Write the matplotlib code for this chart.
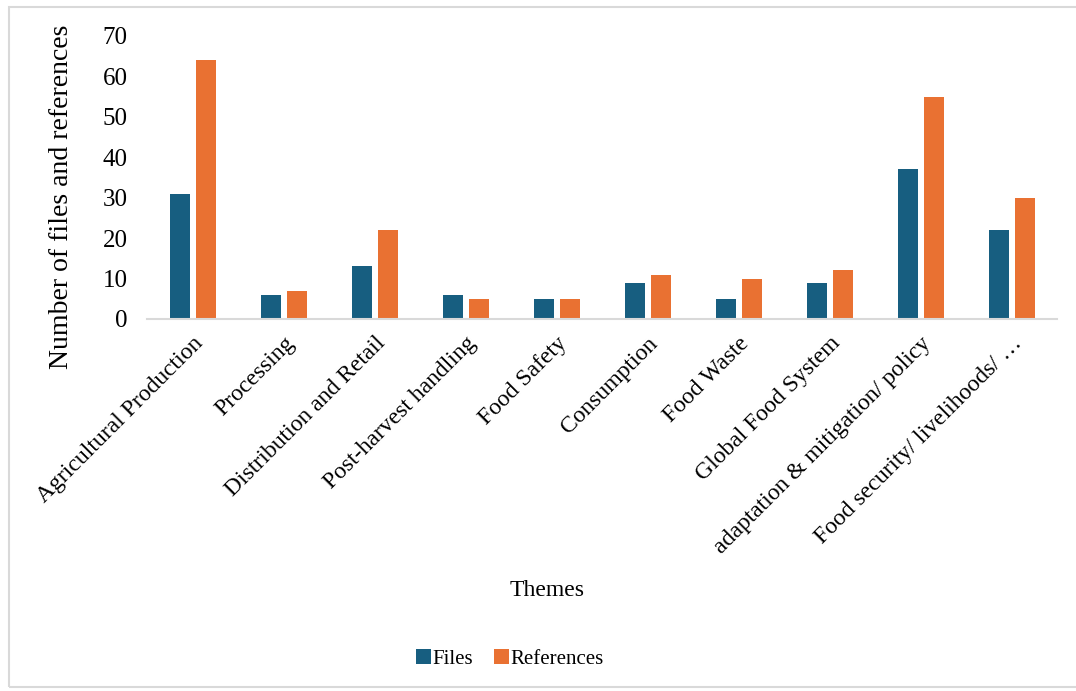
import numpy as np
import matplotlib
matplotlib.use("Agg")
import matplotlib.pyplot as plt
from matplotlib.patches import Rectangle

themes = ["Agricultural Production", "Processing", "Distribution and Retail",
          "Post-harvest handling", "Food Safety", "Consumption", "Food Waste",
          "Global Food System", "adaptation & mitigation/ policy",
          "Food security/ livelihoods/ \u2026"]
files = [31, 6, 13, 6, 5, 9, 5, 9, 37, 22]
references = [64, 7, 22, 5, 5, 11, 10, 12, 55, 30]
yticks = [0, 10, 20, 30, 40, 50, 60, 70]

blue = "#175E80"
orange = "#E97132"

plt.rcParams['font.family'] = ['Liberation Serif', 'DejaVu Serif']

fig = plt.figure(figsize=(10.76, 6.91), dpi=100)
ax = fig.add_axes([147/1076, 1 - 319/691, 910/1076, 283/691])

x = np.arange(len(themes))
w = 0.22
ax.bar(x - 0.14, files, w, color=blue, label="Files")
ax.bar(x + 0.145, references, w, color=orange, label="References")

ax.set_xlim(-0.5, len(themes) - 0.5)
ax.set_ylim(0, 70)
ax.set_yticks(yticks)
ax.tick_params(axis='y', length=0, pad=14, labelsize=18)
ax.tick_params(axis='x', length=0, pad=10, labelsize=17)
ax.set_xticks(x)
ax.set_xticklabels(themes, rotation=45, ha='right', rotation_mode='anchor')

for s in ['top', 'right', 'left']:
    ax.spines[s].set_visible(False)
ax.spines['bottom'].set_color('#D9D9D9')
ax.spines['bottom'].set_linewidth(1.5)

fig.text(62/1076, 1 - 197/691, "Number of files and references", rotation=90,
         ha='center', va='center', fontsize=20)
fig.text(547/1076, 1 - 591/691, "Themes", ha='center', va='center', fontsize=17)

fig.legend(loc='center', bbox_to_anchor=(510/1076, 1 - 659/691), ncol=2,
           frameon=False, fontsize=15, handlelength=0.7, handleheight=0.7,
           handletextpad=0.1, columnspacing=1.0)

fig.patches.append(Rectangle((9/1076, 4/691), 1.2, 1 - 11/691,
                             transform=fig.transFigure, fill=False,
                             edgecolor='#D9D9D9', linewidth=1.5))

fig.savefig("out.png", dpi=100, facecolor='white')
